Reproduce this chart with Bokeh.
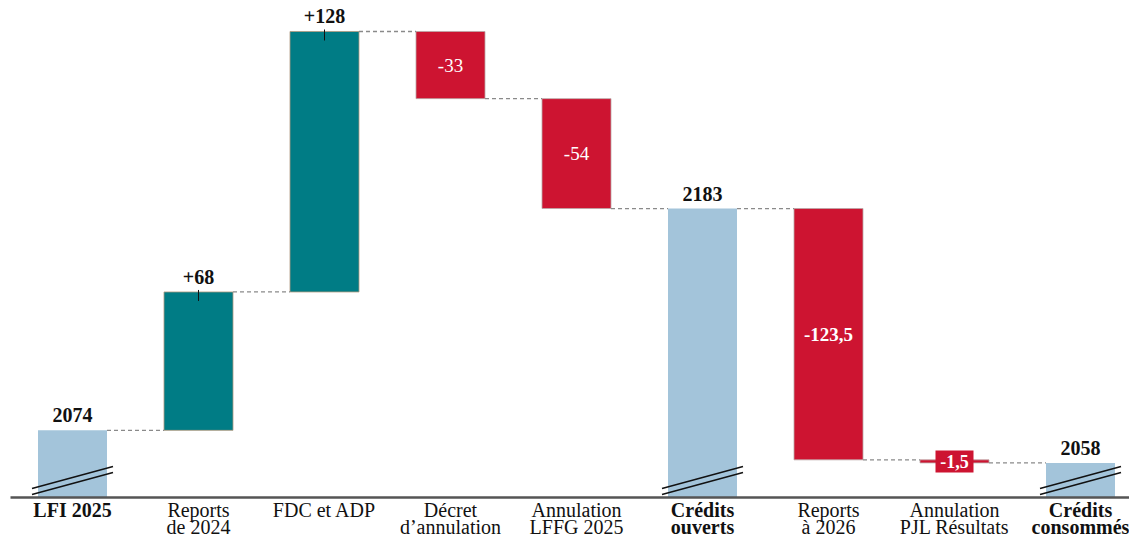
from bokeh.plotting import figure
from bokeh.models import Range1d
from bokeh.core.properties import value
from bokeh.embed import file_html
from bokeh.resources import INLINE

# ---- data ----
line1 = ["LFI 2025", "Reports", "FDC et ADP", "Décret", "Annulation", "Crédits", "Reports", "Annulation", "Crédits"]
line2 = ["", "de 2024", "", "d\u2019annulation", "LFFG 2025", "ouverts", "à 2026", "PJL Résultats", "consommés"]
bold_cat = [True, False, False, False, False, True, False, False, True]
values = [2074, 68, 128, -33, -54, 2183, -123.5, -1.5, 2058]
is_total = [True, False, False, False, False, True, False, False, True]
value_labels = ["2074", "+68", "+128", "-33", "-54", "2183", "-123,5", "-1,5", "2058"]

# ---- layout constants ----
W, H = 1129, 538
KX = 126.0       # px per category
KY = 2.035       # px per unit
Y0 = 2041.0      # value at the baseline (broken axis)
BASE_PX = 497    # baseline position in px from top
TXT_SHIFT = 7    # compensation for alphabetic baseline placement
x_lo = -72 / KX
x_hi = x_lo + W / KX
y_hi = Y0 + BASE_PX / KY
y_lo = Y0 - (H - BASE_PX) / KY
BW = 69 / KX

LIGHT = "#a3c4da"
TEAL = "#007c85"
RED = "#cd1431"
FONT = "Liberation Serif"

p = figure(width=W, height=H, output_backend="svg", toolbar_location=None,
           x_range=Range1d(x_lo, x_hi), y_range=Range1d(y_lo, y_hi),
           min_border=0, min_border_left=0, min_border_right=0,
           min_border_top=0, min_border_bottom=0)
p.axis.visible = False
p.grid.visible = False
p.outline_line_color = None
p.background_fill_color = "white"

xs = list(range(len(values)))
bottoms, tops, colors, ends = [], [], [], []
running = 0
for v, t in zip(values, is_total):
    if t:
        bottoms.append(Y0)
        tops.append(v)
        colors.append(LIGHT)
        running = v
    else:
        start = running
        running = running + v
        bottoms.append(min(start, running))
        tops.append(max(start, running))
        colors.append(TEAL if v > 0 else RED)
    ends.append(running)

# bars
for i in xs:
    lc = None if is_total[i] else ("#b09a80" if values[i] > 0 else "#b9a8a8")
    p.vbar(x=[i], bottom=[bottoms[i]], top=[tops[i]], width=BW, fill_color=colors[i],
           line_color=lc, line_width=1, line_alpha=0.8)

# connectors
for i in xs[:-1]:
    p.line([i + BW / 2, i + 1 - BW / 2], [ends[i], ends[i]], line_color="#8a8a8a",
           line_width=1.3, line_dash="4 3")

# baseline
p.line([x_lo + 10 / KX, x_hi], [Y0, Y0], line_color="#555555", line_width=2.5)

# break marks on total bars
dx = 40.5 / KX
for i in xs:
    if is_total[i]:
        for off in (0, 6):
            ya = Y0 + (9 - off) / KY
            yb = Y0 + (31 - off) / KY
            p.line([i - dx, i + dx], [ya, yb], line_color="#111111", line_width=1.4)

# value labels
for i in xs:
    v = values[i]
    lab = value_labels[i]
    if is_total[i] or v > 0:
        p.text(x=[i], y=[tops[i] + (8 + TXT_SHIFT) / KY], text=[lab], text_align="center",
               text_baseline="alphabetic", text_font=value(FONT), text_font_style="bold",
               text_font_size="20px", text_color="#111111")
        if not is_total[i]:
            p.line([i, i], [tops[i] + 2 / KY, tops[i] - 9 / KY], line_color="#111111", line_width=1)
    else:
        mid = (tops[i] + bottoms[i]) / 2
        if (tops[i] - bottoms[i]) * KY < 24:
            p.rect(x=[i], y=[mid], width=38, height=22, width_units="screen",
                   height_units="screen", fill_color=RED, line_color=None)
            style, size = "bold", "18px"
        else:
            style = "bold" if abs(v) >= 100 else "normal"
            size = "19px"
        p.text(x=[i], y=[mid], text=[lab], text_align="center", text_baseline="middle",
               text_font=value(FONT), text_font_style=style, text_font_size=size,
               text_color="white")

# category labels
for i in xs:
    st = "bold" if bold_cat[i] else "normal"
    p.text(x=[i], y=[Y0 - (19 - TXT_SHIFT) / KY], text=[line1[i]], text_align="center",
           text_baseline="alphabetic", text_font=value(FONT), text_font_style=st,
           text_font_size="20px", text_color="#111111")
    if line2[i]:
        p.text(x=[i], y=[Y0 - (36 - TXT_SHIFT) / KY], text=[line2[i]], text_align="center",
               text_baseline="alphabetic", text_font=value(FONT), text_font_style=st,
               text_font_size="20px", text_color="#111111")

open("out.html", "w").write(file_html(p, INLINE))
